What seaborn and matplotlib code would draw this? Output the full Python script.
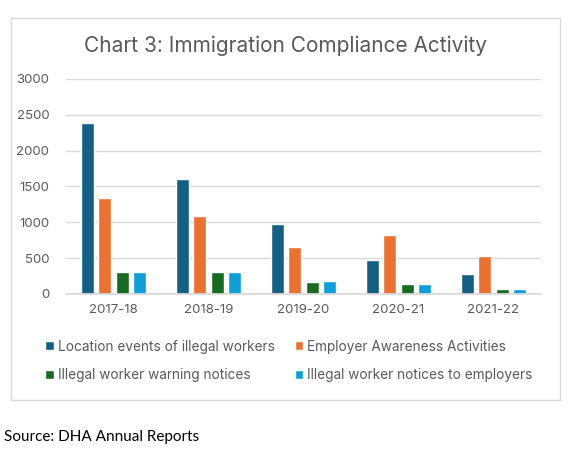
import pandas as pd
import seaborn as sns
import matplotlib.pyplot as plt
from matplotlib.patches import Rectangle, Patch

# data
years = ["2017-18", "2018-19", "2019-20", "2020-21", "2021-22"]
location_events = [2385, 1605, 980, 480, 285]
awareness = [1340, 1090, 660, 825, 535]
warning_notices = [310, 310, 170, 145, 75]
employer_notices = [310, 310, 185, 145, 75]

series = ["Location events of illegal workers", "Employer Awareness Activities",
          "Illegal worker warning notices", "Illegal worker notices to employers"]
colors = ["#156082", "#E97132", "#196B24", "#0F9ED5"]

rows = []
for name, vals in zip(series, [location_events, awareness, warning_notices, employer_notices]):
    for y, v in zip(years, vals):
        rows.append({"Year": y, "Series": name, "Value": v})
df = pd.DataFrame(rows)

sns.set_theme(style="white")
plt.rcParams["font.family"] = ["Inter", "DejaVu Sans"]

W, H = 573, 451
fig = plt.figure(figsize=(W / 100, H / 100), dpi=100)
ax = fig.add_axes([66 / W, 1 - 294 / H, (541 - 66) / W, (294 - 79) / H])

sns.barplot(data=df, x="Year", y="Value", hue="Series", palette=colors,
            width=0.72, gap=0.24, saturation=1, ax=ax, legend=False)

ax.set_ylim(0, 3000)
ax.set_xlim(-0.5, 4.5)
ax.set_yticks(range(0, 3001, 500))
ax.yaxis.grid(True, color="#D9D9D9", linewidth=1)
ax.set_axisbelow(True)
for s in ["left", "right", "top"]:
    ax.spines[s].set_visible(False)
ax.spines["bottom"].set_color("#D9D9D9")
ax.tick_params(axis="both", length=0, labelsize=9.5, labelcolor="#595959")
ax.tick_params(axis="y", pad=12)
ax.tick_params(axis="x", pad=7)
ax.set_xlabel("")
ax.set_ylabel("")

fig.text(286 / W, 1 - 46 / H, "Chart 3: Immigration Compliance Activity",
         ha="center", va="center", fontsize=15, color="#595959")

handles = [Patch(facecolor=c) for c in colors]
order = [0, 2, 1, 3]
fig.legend([handles[i] for i in order], [series[i] for i in order], ncol=2,
           loc="center", bbox_to_anchor=(289 / W, 1 - 361 / H), frameon=False,
           fontsize=9.8, labelcolor="#595959", handlelength=0.6, handleheight=0.6,
           handletextpad=0.3, columnspacing=1.5, labelspacing=1.1)

fig.patches.append(Rectangle((11 / W, 1 - 400 / H), (560 - 11) / W, (400 - 18) / H,
                             transform=fig.transFigure, fill=False,
                             edgecolor="#D9D9D9", linewidth=1))

fig.text(4 / W, 1 - 437 / H, "Source: DHA Annual Reports", ha="left", va="center",
         fontsize=11, color="black", family=["Lato", "DejaVu Sans"])

fig.savefig("out.png", dpi=100)
